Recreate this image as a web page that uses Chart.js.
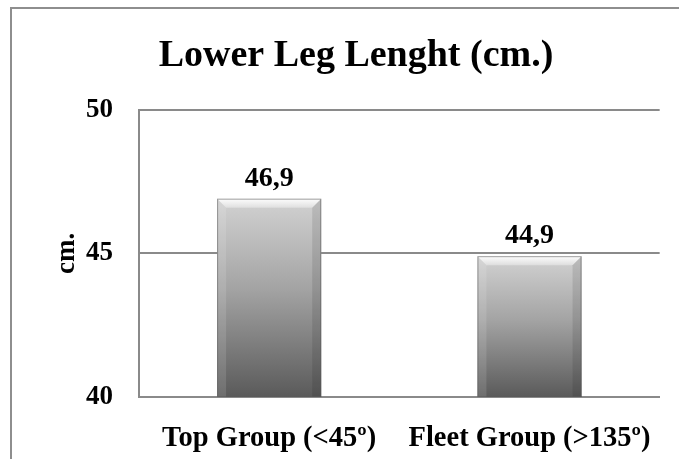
<!DOCTYPE html>
<html>
<head>
<meta charset="utf-8">
<script src="https://cdn.jsdelivr.net/npm/chart.js@4/dist/chart.umd.min.js"></script>
<style>
  html, body { margin: 0; padding: 0; background: #ffffff; }
  #wrap { position: relative; width: 679px; height: 459px; }
</style>
</head>
<body>
<div id="wrap"><canvas id="chart" width="679" height="459"></canvas></div>
<script>
// Lower leg length by group
const categories = ['Top Group (<45º)', 'Fleet Group (>135º)'];
const lowerLegCm = [46.9, 44.9];
const yTicks = [40, 45, 50];
const chartTitle = 'Lower Leg Lenght (cm.)';
const yAxisTitle = 'cm.';

const SERIF = '"Liberation Serif", "Times New Roman", serif';

function fmt(v) { return v.toFixed(1).replace('.', ','); }

// Vertical grey gradient for each bar, from its top down to the baseline
function barGradient(ctx) {
  const chart = ctx.chart;
  const area = chart.chartArea;
  if (!area || ctx.type !== 'data') return '#999999';
  const y = chart.scales.y;
  const top = y.getPixelForValue(ctx.raw);
  const g = chart.ctx.createLinearGradient(0, top, 0, area.bottom);
  g.addColorStop(0, '#d2d2d2');
  g.addColorStop(0.45, '#a4a4a4');
  g.addColorStop(1, '#5a5a5a');
  return g;
}

// Frame around the whole figure (runs off the right and bottom edges)
const framePlugin = {
  id: 'frame',
  beforeDraw(chart) {
    const c = chart.ctx;
    c.save();
    c.strokeStyle = '#8e8e8e';
    c.lineWidth = 2;
    c.beginPath();
    c.moveTo(11, chart.height + 2);
    c.lineTo(11, 8);
    c.lineTo(chart.width + 2, 8);
    c.stroke();
    c.restore();
  }
};

// Soft bevel on the bars and value labels above them
const bevelPlugin = {
  id: 'bevel',
  afterDatasetsDraw(chart) {
    const c = chart.ctx;
    const meta = chart.getDatasetMeta(0);
    const area = chart.chartArea;
    meta.data.forEach((bar, i) => {
      const left = bar.x - bar.width / 2;
      const right = bar.x + bar.width / 2;
      const top = bar.y;
      const bottom = Math.min(bar.base, area.bottom);
      const b = 9;
      c.save();
      // top highlight
      const tg = c.createLinearGradient(0, top, 0, top + b);
      tg.addColorStop(0, 'rgba(255,255,255,0.95)');
      tg.addColorStop(1, 'rgba(255,255,255,0.35)');
      c.fillStyle = tg;
      c.beginPath();
      c.moveTo(left, top);
      c.lineTo(right, top);
      c.lineTo(right - b, top + b);
      c.lineTo(left + b, top + b);
      c.closePath();
      c.fill();
      // side shading
      c.fillStyle = 'rgba(255,255,255,0.12)';
      c.beginPath();
      c.moveTo(left, top);
      c.lineTo(left + b, top + b);
      c.lineTo(left + b, bottom);
      c.lineTo(left, bottom);
      c.closePath();
      c.fill();
      c.fillStyle = 'rgba(0,0,0,0.10)';
      c.beginPath();
      c.moveTo(right, top);
      c.lineTo(right - b, top + b);
      c.lineTo(right - b, bottom);
      c.lineTo(right, bottom);
      c.closePath();
      c.fill();
      // edge
      c.strokeStyle = 'rgba(90,90,90,0.55)';
      c.lineWidth = 1;
      c.strokeRect(left + 0.5, top + 0.5, bar.width - 1, bottom - top - 1);
      // value label
      c.fillStyle = '#000000';
      c.font = 'bold 28px ' + SERIF;
      c.textAlign = 'center';
      c.textBaseline = 'alphabetic';
      c.fillText(fmt(chart.data.datasets[0].data[i]), bar.x, top - 13);
      c.restore();
    });
  }
};

new Chart(document.getElementById('chart'), {
  type: 'bar',
  data: {
    labels: categories,
    datasets: [{
      data: lowerLegCm,
      backgroundColor: barGradient,
      borderWidth: 0,
      barPercentage: 0.4,
      categoryPercentage: 1.0
    }]
  },
  options: {
    responsive: false,
    animation: false,
    devicePixelRatio: 1,
    layout: { padding: { left: 47, right: 14, top: 0, bottom: 0 } },
    plugins: {
      legend: { display: false },
      tooltip: { enabled: false },
      title: {
        display: true,
        text: chartTitle,
        color: '#000000',
        font: { family: SERIF, size: 38, weight: 'bold' },
        padding: { top: 33, bottom: 31 }
      }
    },
    scales: {
      x: {
        grid: { display: false, drawTicks: false },
        border: { display: true, color: '#8a8a8a', width: 2 },
        ticks: {
          color: '#000000',
          padding: 25,
          maxRotation: 0,
          font: { family: SERIF, size: 28.5, weight: 'bold' }
        },
        afterFit(scale) { scale.height = 62; }
      },
      y: {
        min: 40,
        max: 50,
        afterBuildTicks(scale) { scale.ticks = yTicks.map(v => ({ value: v })); },
        grid: { color: '#8a8a8a', lineWidth: 2, drawTicks: false },
        border: { display: true, color: '#8a8a8a', width: 2 },
        ticks: {
          color: '#000000',
          padding: 26,
          font: { family: SERIF, size: 27, weight: 'bold' }
        },
        title: {
          display: true,
          text: yAxisTitle,
          color: '#000000',
          font: { family: SERIF, size: 27, weight: 'bold' },
          padding: { top: 4, bottom: 4 }
        },
        afterFit(scale) { scale.width = 92; }
      }
    }
  },
  plugins: [framePlugin, bevelPlugin]
});
</script>
</body>
</html>
